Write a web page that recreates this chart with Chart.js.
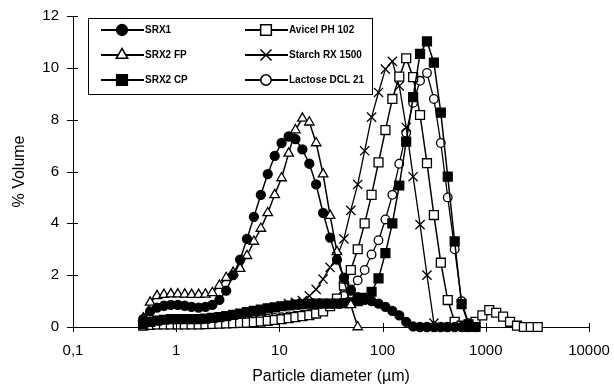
<!DOCTYPE html>
<html>
<head>
<meta charset="utf-8">
<script src="https://cdn.jsdelivr.net/npm/chart.js@4.4.1/dist/chart.umd.min.js"></script>
<style>
  html,body{margin:0;padding:0;background:#fff}
</style>
</head>
<body>
<canvas id="psd" width="614" height="386"></canvas>
<script>
// size classes of the diffraction analyser (µm)
const sizes=[0.479,0.559,0.652,0.761,0.888,1.036,1.21,1.41,1.65,1.92,
  2.24,2.62,3.05,3.56,4.16,4.85,5.66,6.61,7.71,9.00,
  10.5,12.3,14.3,16.7,19.5,22.7,26.5,31.0,36.1,42.2,
  49.2,57.4,67.0,78.2,91.3,106.5,124.3,145.1,169.3,197.6,
  230.6,269.1,314.1,366.5,427.8,499.2,582.6,680.0,793.5,926.1,
  1081,1261,1472,1718,2005,2340,2730,3187];

// % volume per size class
const srx1=[0.30,0.60,0.75,0.82,0.85,0.85,0.82,0.78,0.75,0.78,
  0.85,1.05,1.40,2.00,2.60,3.40,4.25,5.10,5.90,6.60,
  7.10,7.35,7.25,6.85,6.30,5.50,4.40,3.45,2.60,1.90,
  1.40,1.15,1.05,1.00,0.90,0.78,0.62,0.45,0.20,0.02,
  0,0,0,0,0,0,0,0,0];
const srx2fp=[0.34,0.95,1.20,1.25,1.27,1.27,1.26,1.25,1.25,1.26,
  1.32,1.60,1.90,2.10,2.25,2.75,3.30,3.80,4.40,5.10,
  5.75,6.70,7.60,8.05,7.90,7.10,5.90,4.30,2.90,1.80,
  0.85,0.00];
const srx2cp=[0.10,0.20,0.25,0.28,0.30,0.30,0.30,0.30,0.30,0.32,
  0.35,0.38,0.42,0.47,0.52,0.57,0.62,0.67,0.72,0.76,
  0.80,0.83,0.86,0.88,0.90,0.90,0.90,0.90,0.90,0.92,
  0.95,1.00,1.12,1.36,1.88,2.85,4.00,5.46,7.15,8.87,
  10.54,11.02,10.20,8.27,5.80,3.30,0.88,0.10,0.00];
const avicel=[0.05,0.08,0.10,0.10,0.10,0.10,0.10,0.10,0.10,0.11,
  0.12,0.13,0.14,0.15,0.16,0.17,0.19,0.21,0.24,0.27,
  0.30,0.34,0.38,0.42,0.46,0.52,0.60,0.80,1.10,1.60,
  2.20,3.00,4.00,5.10,6.35,7.60,8.80,9.66,10.37,9.64,
  8.18,6.32,4.32,2.48,1.04,0.20,0.05,0.00,0.20,0.45,
  0.65,0.55,0.40,0.20,0.05,0.00,0.00,0.00];
const starch=[0.05,0.08,0.10,0.10,0.10,0.10,0.10,0.10,0.12,0.15,
  0.18,0.22,0.27,0.32,0.38,0.45,0.52,0.60,0.68,0.75,
  0.82,0.90,0.95,1.02,1.20,1.45,1.85,2.30,2.70,3.40,
  4.50,5.50,6.80,8.10,9.05,9.95,10.25,9.30,7.70,5.80,
  3.95,2.00,0.15,0.00];
const lactose=[0.08,0.12,0.14,0.15,0.15,0.15,0.15,0.15,0.15,0.16,
  0.17,0.18,0.19,0.20,0.22,0.24,0.26,0.29,0.32,0.35,
  0.38,0.41,0.44,0.47,0.50,0.56,0.66,0.80,0.98,1.20,
  1.45,1.80,2.20,2.80,3.35,4.15,5.10,6.30,7.50,8.65,
  9.50,9.80,8.80,7.10,5.00,3.00,1.00,0.15,0.00];

const xTicks=[0.1,1,10,100,1000,10000];
const xTickLabels=['0,1','1','10','100','1000','10000'];
const yTicks=[0,2,4,6,8,10,12];

const pts=arr=>arr.map((v,i)=>({x:sizes[i],y:v}));

Chart.defaults.font.family='"Liberation Sans", Arial, sans-serif';
Chart.defaults.color='#000';

function ser(label,data,style,r,filled,bw){
  return {label,data:pts(data),borderColor:'#000',borderWidth:bw,
    pointStyle:style,pointRadius:r,pointHoverRadius:r,
    pointBackgroundColor:filled?'#000':'#fff',pointBorderColor:'#000',
    pointBorderWidth:1.3,tension:0,fill:false,clip:false};
}

const datasets=[
  ser('SRX1',srx1,'circle',4.5,true,1.5),
  ser('SRX2 FP',srx2fp,'triangle',5.5,false,1.5),
  ser('SRX2 CP',srx2cp,'rect',6.3,true,1.5),
  ser('Avicel PH 102',avicel,'rect',6.3,false,1.5),
  ser('Starch RX 1500',starch,'crossRot',6.5,false,1.3),
  ser('Lactose DCL 21',lactose,'circle',4.3,false,1.3)
];

// invisible tick space keeps labels off the axis without widening the edges
const gridOpts={display:true,drawOnChartArea:false,drawTicks:true,tickLength:14,tickColor:'rgba(0,0,0,0)'};

// tick marks crossing both axes + boxed two-column legend
const axisDeco={
  id:'axisDeco',
  afterDraw(chart){
    const {ctx,chartArea:a,scales:{x,y}}=chart;
    ctx.save();
    ctx.strokeStyle='#000';ctx.lineWidth=1;
    ctx.beginPath();
    yTicks.forEach(v=>{const py=Math.round(y.getPixelForValue(v))+0.5;ctx.moveTo(a.left-6,py);ctx.lineTo(a.left+5,py);});
    xTicks.forEach(v=>{const px=Math.round(x.getPixelForValue(v))+0.5;ctx.moveTo(px,a.bottom-4);ctx.lineTo(px,a.bottom+5);});
    ctx.stroke();

    ctx.strokeRect(88.5,18.5,284,76);
    chart.data.datasets.forEach((ds,i)=>{
      const col=Math.floor(i/3),row=i%3;
      const x0=101+col*144,yy=30+row*25;
      ctx.beginPath();ctx.moveTo(x0,yy);ctx.lineTo(x0+43,yy);
      ctx.lineWidth=2;ctx.strokeStyle='#000';ctx.stroke();
      ctx.fillStyle=ds.pointBackgroundColor;ctx.strokeStyle='#000';ctx.lineWidth=1.5;
      Chart.helpers.drawPoint(ctx,{pointStyle:ds.pointStyle,radius:ds.pointRadius*1.2,borderWidth:1.5,rotation:0},x0+21,yy);
      ctx.fillStyle='#000';
      ctx.font='bold 10px "Liberation Sans", Arial, sans-serif';
      ctx.textBaseline='middle';ctx.textAlign='left';
      ctx.fillText(ds.label,x0+44,yy+0.5);
    });
    ctx.restore();
  }
};

new Chart(document.getElementById('psd'),{
  type:'line',
  data:{datasets},
  options:{
    responsive:false,animation:false,
    layout:{padding:{top:16,right:25,left:0,bottom:0}},
    plugins:{legend:{display:false},tooltip:{enabled:false}},
    scales:{
      x:{type:'logarithmic',min:0.1,max:10000,
        grid:gridOpts,border:{display:true,color:'#000',width:1},
        afterBuildTicks:s=>{s.ticks=xTicks.map(v=>({value:v}));},
        afterFit:s=>{s.height=59;},
        ticks:{autoSkip:false,maxRotation:0,padding:1,font:{size:15},
          callback:(v,i)=>xTickLabels[i]},
        title:{display:true,text:'Particle diameter (µm)',font:{size:16},padding:0}},
      y:{min:0,max:12,
        grid:gridOpts,border:{display:true,color:'#000',width:1},
        afterBuildTicks:s=>{s.ticks=yTicks.map(v=>({value:v}));},
        afterFit:s=>{s.width=73;},
        ticks:{padding:0,font:{size:15}},
        title:{display:true,text:'% Volume',font:{size:16},padding:{top:10,bottom:0}}}
    }
  },
  plugins:[axisDeco]
});
</script>
</body>
</html>
